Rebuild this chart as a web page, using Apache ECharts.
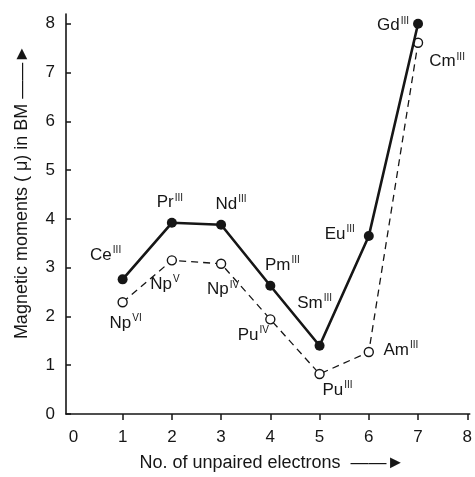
<!DOCTYPE html>
<html>
<head>
<meta charset="utf-8">
<script src="https://cdn.jsdelivr.net/npm/echarts@6/dist/echarts.min.js"></script>
<style>
  html, body { margin: 0; padding: 0; background: #fff; }
  #chart { width: 475px; height: 477px; }
</style>
</head>
<body>
<div id="chart"></div>
<script>
// number of unpaired electrons
const electrons = [1, 2, 3, 4, 5, 6, 7];

// lanthanide ions (solid line)
const lnIons = ['Ce', 'Pr', 'Nd', 'Pm', 'Sm', 'Eu', 'Gd'];
const lnStates = ['III', 'III', 'III', 'III', 'III', 'III', 'III'];
const lnMoments = [2.76, 3.92, 3.88, 2.63, 1.40, 3.65, 8.0];

// actinide ions (dashed line)
const anIons = ['Np', 'Np', 'Np', 'Pu', 'Pu', 'Am', 'Cm'];
const anStates = ['VI', 'V', 'IV', 'IV', 'III', 'III', 'III'];
const anMoments = [2.29, 3.15, 3.08, 1.94, 0.82, 1.27, 7.61];

const xTicks = [0, 1, 2, 3, 4, 5, 6, 7, 8];
const yTicks = [0, 1, 2, 3, 4, 5, 6, 7, 8];

// label offsets from the point (px)
const lnOffsets = [[-17, -24], [-2, -20], [10, -20], [12, -20], [-5, -42], [-29, -2], [-25, 2]];
const anOffsets = [[3, 21], [-7, 24], [2, 26], [-17, 16], [18, 16], [32, -2], [29, 19]];

const ink = '#161616';
const font = '"Liberation Sans", Arial, sans-serif';

const labelRich = {
    n: { fontSize: 17, color: ink, fontFamily: font, lineHeight: 20 },
    s: { fontSize: 10, color: ink, fontFamily: font, lineHeight: 20, verticalAlign: 'top', padding: [0, 0, 0, 1] }
};

function points(values, ions, states, offsets) {
    return electrons.map((x, i) => ({
        value: [x, values[i]],
        label: {
            show: true,
            position: 'inside',
            offset: offsets[i],
            formatter: '{n|' + ions[i] + '}{s|' + states[i] + '}',
            rich: labelRich
        }
    }));
}

const chart = echarts.init(document.getElementById('chart'));

chart.setOption({
    backgroundColor: '#fff',
    animation: false,
    grid: { left: 66, right: 0, top: 14, bottom: 61 },
    xAxis: {
        type: 'value',
        min: -0.15,
        max: 8.05,
        name: 'No. of unpaired electrons  ——►',
        nameLocation: 'middle',
        nameGap: 40,
        nameTextStyle: { fontSize: 18, color: ink, fontFamily: font, padding: [0, 0, 0, 8] },
        axisLine: { lineStyle: { color: ink, width: 1.6 } },
        axisTick: { show: true, length: 6, customValues: xTicks.slice(1), lineStyle: { color: ink, width: 1.5 } },
        axisLabel: { customValues: xTicks, fontSize: 17, color: ink, fontFamily: font, margin: 15 },
        splitLine: { show: false }
    },
    yAxis: {
        type: 'value',
        min: 0,
        max: 8.2,
        name: 'Magnetic moments ( μ) in BM ——►',
        nameLocation: 'middle',
        nameRotate: 90,
        nameGap: 35,
        nameTextStyle: { fontSize: 18, color: ink, fontFamily: font, padding: [0, 0, 0, 44] },
        axisLine: { onZero: false, lineStyle: { color: ink, width: 1.6 } },
        axisTick: { show: true, inside: true, length: 5, customValues: yTicks, lineStyle: { color: ink, width: 1.5 } },
        axisLabel: { customValues: yTicks, fontSize: 17, color: ink, fontFamily: font, margin: 11 },
        splitLine: { show: false }
    },
    series: [
        {
            name: 'Lanthanides',
            type: 'line',
            data: points(lnMoments, lnIons, lnStates, lnOffsets),
            symbol: 'circle',
            symbolSize: 10,
            lineStyle: { color: ink, width: 2.6 },
            itemStyle: { color: ink },
            z: 3
        },
        {
            name: 'Actinides',
            type: 'line',
            data: points(anMoments, anIons, anStates, anOffsets),
            symbol: 'circle',
            symbolSize: 9,
            lineStyle: { color: ink, width: 1.3, type: [7, 5] },
            itemStyle: { color: '#fff', borderColor: ink, borderWidth: 1.4 },
            z: 2
        }
    ]
});
</script>
</body>
</html>
